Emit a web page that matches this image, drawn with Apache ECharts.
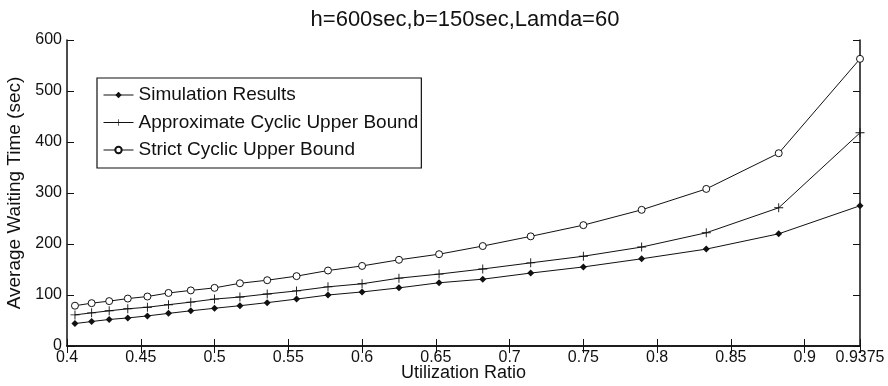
<!DOCTYPE html>
<html>
<head>
<meta charset="utf-8">
<script src="https://cdn.jsdelivr.net/npm/echarts@6/dist/echarts.min.js"></script>
<style>
html,body{margin:0;padding:0;background:#fff;}
#chart{width:888px;height:386px;}
</style>
</head>
<body>
<div id="chart"></div>
<script>
var utilization = [0.4054, 0.4167, 0.4286, 0.4412, 0.4545, 0.4688, 0.4839, 0.5, 0.5172, 0.5357, 0.5556, 0.5769, 0.6, 0.625, 0.6522, 0.6818, 0.7143, 0.75, 0.7895, 0.8333, 0.8824, 0.9375];
var simulation = [44, 48, 52, 55, 59, 64, 69, 74, 79, 85, 92, 100, 106, 114, 124, 131, 143, 155, 171, 190, 220, 275];
var approxBound = [61, 65, 69, 73, 76, 81, 86, 92, 96, 102, 108, 116, 122, 133, 141, 151, 163, 176, 194, 222, 271, 418];
var strictBound = [79, 84, 88, 93, 97, 104, 109, 114, 123, 129, 137, 148, 157, 169, 180, 196, 215, 237, 267, 308, 378, 563];
var xTickValues = [0.4, 0.45, 0.5, 0.55, 0.6, 0.65, 0.7, 0.75, 0.8, 0.85, 0.9, 0.9375];
var seriesNames = ['Simulation Results', 'Approximate Cyclic Upper Bound', 'Strict Cyclic Upper Bound'];
var titleText = 'h=600sec,b=150sec,Lamda=60';
var xName = 'Utilization Ratio';
var yName = 'Average Waiting Time (sec)';

function pairs(ys) { return utilization.map(function (x, i) { return [x, ys[i]]; }); }

var FONT = '"Liberation Sans", Arial, Helvetica, sans-serif';
var ink = '#111';
var plusPath = 'path://M0,4.5H10V5.5H0Z M4.5,0H5.5V10H4.5Z';

var chart = echarts.init(document.getElementById('chart'), null, {renderer: 'canvas'});
var lineCommon = {type: 'line', lineStyle: {color: ink, width: 1}, itemStyle: {color: ink}, emphasis: {disabled: true}, animation: false};
var axisLineStyle = {color: ink, width: 1.5};

chart.setOption({
  animation: false,
  backgroundColor: '#fff',
  title: {
    text: titleText, left: 460, top: 4, textAlign: 'center',
    textStyle: {fontFamily: FONT, fontSize: 22, fontWeight: 'normal', color: ink}
  },
  grid: {left: 67, right: 28, top: 40, bottom: 40, containLabel: false, outerBoundsMode: 'none'},
  legend: {
    orient: 'vertical', left: 97, top: 78,
    data: seriesNames,
    itemWidth: 30, itemHeight: 8, itemGap: 7.5,
    padding: [7, 3, 8, 6],
    borderColor: ink, borderWidth: 1.2, backgroundColor: '#fff',
    lineStyle: {width: 1},
    textStyle: {fontFamily: FONT, fontSize: 19, color: ink, lineHeight: 20},
    selectedMode: false
  },
  xAxis: [{
    type: 'value', min: 0.4, max: 0.9375,
    name: xName, nameLocation: 'middle', nameGap: 18, nameMoveOverlap: false,
    nameTextStyle: {fontFamily: FONT, fontSize: 18, color: ink, verticalAlign: 'top'},
    axisLine: {show: true, lineStyle: axisLineStyle},
    axisTick: {show: true, inside: true, length: 7, customValues: xTickValues, lineStyle: {color: ink}},
    axisLabel: {customValues: xTickValues, fontFamily: FONT, fontSize: 16, color: ink, margin: 4},
    splitLine: {show: false}
  }, {
    type: 'value', min: 0.4, max: 0.9375, position: 'top',
    axisLine: {show: true, lineStyle: axisLineStyle},
    axisTick: {show: true, inside: true, length: 7, customValues: xTickValues, lineStyle: {color: ink}},
    axisLabel: {show: false},
    splitLine: {show: false}
  }],
  yAxis: [{
    type: 'value', min: 0, max: 600, interval: 100,
    name: yName, nameLocation: 'middle', nameGap: 42,
    nameTextStyle: {fontFamily: FONT, fontSize: 19, color: ink},
    axisLine: {show: true, lineStyle: axisLineStyle},
    axisTick: {show: true, inside: true, length: 7, lineStyle: {color: ink}},
    axisLabel: {fontFamily: FONT, fontSize: 16, color: ink, margin: 5},
    splitLine: {show: false}
  }, {
    type: 'value', min: 0, max: 600, interval: 100, position: 'right',
    axisLine: {show: true, lineStyle: axisLineStyle},
    axisTick: {show: true, inside: true, length: 7, lineStyle: {color: ink}},
    axisLabel: {show: false},
    splitLine: {show: false}
  }],
  series: [
    Object.assign({}, lineCommon, {name: seriesNames[0], data: pairs(simulation), symbol: 'diamond', symbolSize: 7, itemStyle: {color: ink}}),
    Object.assign({}, lineCommon, {name: seriesNames[1], data: pairs(approxBound), symbol: plusPath, symbolSize: 9, itemStyle: {color: ink}}),
    Object.assign({}, lineCommon, {name: seriesNames[2], data: pairs(strictBound), symbol: 'circle', symbolSize: 7, itemStyle: {color: '#fff', borderColor: ink, borderWidth: 1}})
  ]
});
</script>
</body>
</html>
